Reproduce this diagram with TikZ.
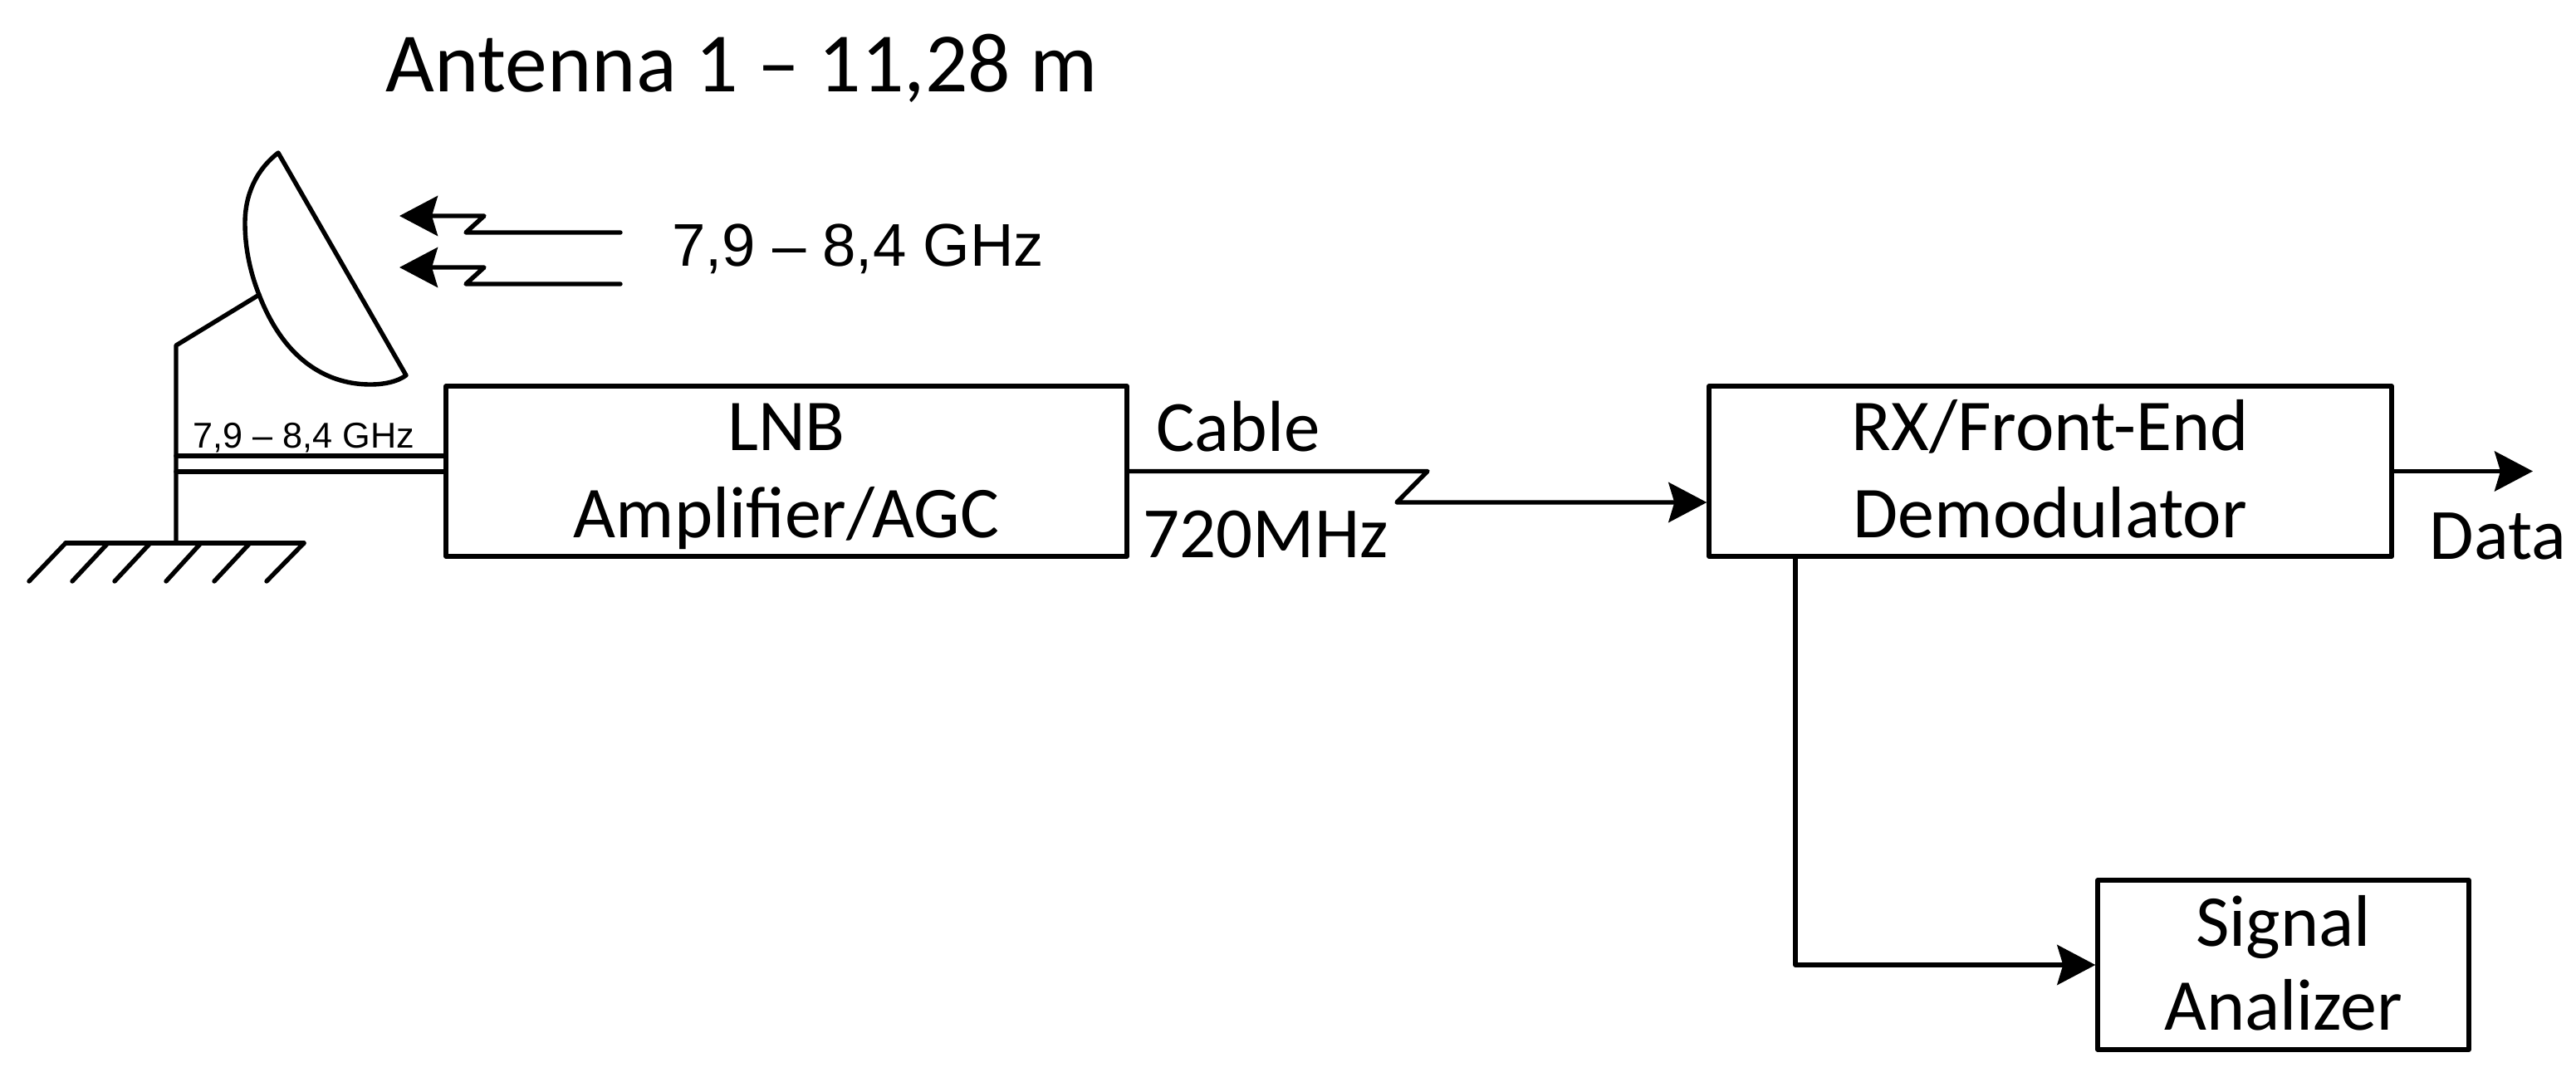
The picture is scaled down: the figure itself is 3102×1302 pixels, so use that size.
\documentclass[tikz,border=0pt]{standalone}
\usepackage{fontspec}
\setmainfont{Carlito}
\newfontfamily\arialf{Liberation Sans}
\usetikzlibrary{arrows.meta}
\tikzset{
  x=0.5pt,y=-0.5pt,
  wire/.style={line width=2.7pt,line join=round,line cap=round},
  arrowwire/.style={wire,-{Stealth[length=23pt,width=24pt,inset=3.5pt]}},
  blockbox/.style={draw,line width=2.7pt,line join=round,inner sep=0pt,align=center,text height=84.5pt,text depth=5pt,font=\fontsize{44}{52.5}\selectfont},
  mainlabel/.style={inner sep=0pt,font=\fontsize{50.8}{60}\selectfont},
  cablelabel/.style={inner sep=0pt,font=\fontsize{43.5}{52}\selectfont},
  freqbig/.style={inner sep=0pt,font=\arialf\fontsize{36.3}{42}\selectfont},
  freqsmall/.style={inner sep=0pt,font=\arialf\fontsize{21.6}{26}\selectfont},
}
\begin{document}
\begin{tikzpicture}
\useasboundingbox (0,0) rectangle (3102,1302);
% blocks
\node[blockbox,minimum width=410pt,minimum height=102.5pt] (lnb) at (947,567.5) {LNB\\Amplifier/AGC};
\node[blockbox,minimum width=411pt,minimum height=102.5pt] (rx) at (2469,567.5) {RX/Front-End\\Demodulator};
\node[blockbox,minimum width=223.5pt,minimum height=102pt,text height=83pt,font=\fontsize{44}{50.5}\selectfont] (sa) at (2749.5,1162) {Signal\\Analizer};
% labels
\node[mainlabel,anchor=center] (title) at (893,82) {Antenna 1 – 11,28 m};
\node[freqbig,anchor=center] (freqa) at (1033,300) {7,9 – 8,4 GHz};
\node[freqsmall,anchor=center] (freqb) at (366,527) {7,9 – 8,4 GHz};
\node[cablelabel,anchor=center] (cable) at (1491,514) {Cable};
\node[cablelabel,anchor=center] (mhz) at (1524,644) {720MHz};
\node[cablelabel,anchor=center] (data) at (3008,646) {Data};
% dish
\coordinate (dtop) at (335,184);
\coordinate (dleft) at (295,269);
\coordinate (dmnt) at (312,355);
\coordinate (dlow) at (446,463);
\coordinate (dbot) at (489,452);
\draw[wire] (dtop) .. controls (308,205) and (295,235) .. (dleft)
  .. controls (295,300) and (302,330) .. (dmnt)
  .. controls (345,440) and (400,463) .. (dlow)
  .. controls (462,463) and (478,460) .. (dbot) -- cycle;
% support and ground
\coordinate (bend) at (212,416);
\coordinate (gnd) at (212,654);
\coordinate (gl) at (79,654);
\coordinate (gr) at (366,654);
\draw[wire] (dmnt) -- (bend) -- (gnd);
\draw[wire] (gl) -- (gr);
\foreach \n/\xa/\xb in {a/79/35,b/130/87,c/181/138,d/242/200,e/301/258,f/366/321}{
  \coordinate (h\n) at (\xa,654);
  \coordinate (k\n) at (\xb,700);
  \draw[wire] (h\n) -- (k\n);
}
% feed lines
\coordinate (fa) at (212,549);
\coordinate (fb) at (212,568);
\draw[wire] (fa) -- (fa -| lnb.west);
\draw[wire] (fb) -- (fb -| lnb.west);
% incoming signals
\foreach \n/\yy in {a/280,b/342}{
  \coordinate (sa\n) at (747,\yy);
  \coordinate (sb\n) at (561,\yy);
  \coordinate (sc\n) at (583,\yy-20);
  \coordinate (sd\n) at (481,\yy-20);
  \draw[arrowwire] (sa\n) -- (sb\n) -- (sc\n) -- (sd\n);
}
% cable
\coordinate (za) at (1719,567.5);
\coordinate (zb) at (1682,605);
\draw[arrowwire] (lnb.east) -- (za) -- (zb) -- (zb -| rx.west);
% outputs
\coordinate (out) at (3050,567.5);
\draw[arrowwire] (rx.east) -- (out);
\coordinate (tap) at (2162,670);
\draw[arrowwire] (tap) |- (sa.west);
\end{tikzpicture}
\end{document}
